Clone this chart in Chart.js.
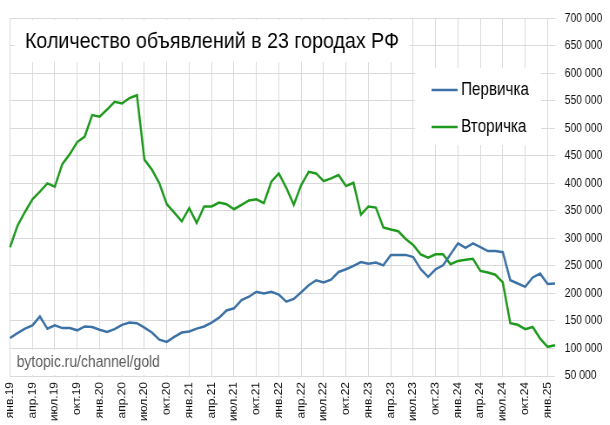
<!DOCTYPE html>
<html><head><meta charset="utf-8">
<script src="https://cdn.jsdelivr.net/npm/chart.js@4/dist/chart.umd.min.js"></script>
<style>
html,body{margin:0;padding:0;background:#fff;overflow:hidden;}
#wrap{width:701px;height:425px;transform:scaleX(0.87);transform-origin:0 0;}
</style></head><body>
<div id="wrap"><canvas id="c" width="701" height="425"></canvas></div>
<script>
const months = ["янв.19","фев.19","мар.19","апр.19","май.19","июн.19","июл.19","авг.19","сен.19","окт.19","ноя.19","дек.19",
"янв.20","фев.20","мар.20","апр.20","май.20","июн.20","июл.20","авг.20","сен.20","окт.20","ноя.20","дек.20",
"янв.21","фев.21","мар.21","апр.21","май.21","июн.21","июл.21","авг.21","сен.21","окт.21","ноя.21","дек.21",
"янв.22","фев.22","мар.22","апр.22","май.22","июн.22","июл.22","авг.22","сен.22","окт.22","ноя.22","дек.22",
"янв.23","фев.23","мар.23","апр.23","май.23","июн.23","июл.23","авг.23","сен.23","окт.23","ноя.23","дек.23",
"янв.24","фев.24","мар.24","апр.24","май.24","июн.24","июл.24","авг.24","сен.24","окт.24","ноя.24","дек.24",
"янв.25","фев.25"];
const primary = [119000,128000,136000,142000,158000,136000,142000,137000,137000,133000,140000,139000,
134000,130000,135000,143000,147000,146000,138000,129000,116000,112000,121000,129000,
131000,136000,140000,147000,156000,169000,173000,188000,194000,203000,200000,203000,
198000,185000,190000,202000,215000,224000,220000,225000,239000,244000,250000,257000,
254000,256000,251000,270000,270000,270000,266000,244000,230000,244000,251000,271000,
291000,283000,291000,284000,277000,277000,275000,224000,218000,212000,229000,236000,
217000,218000];
const secondary = [284000,323000,348000,371000,385000,400000,394000,435000,453000,475000,485000,524000,
521000,534000,548000,545000,555000,560000,443000,425000,400000,362000,347000,331000,
355000,328000,358000,358000,365000,362000,353000,361000,369000,371000,364000,403000,
418000,392000,361000,397000,421000,418000,404000,409000,415000,395000,401000,343000,
358000,356000,320000,316000,313000,299000,288000,271000,265000,271000,271000,253000,
259000,261000,263000,241000,238000,234000,220000,146000,143000,135000,139000,118000,
103000,106000];
const seriesNames = ["Первичка","Вторичка"];
const seriesColors = ["#3d72a6","#1f9a1f"];
const yTicks = {min:50000,max:700000,step:50000};
const titleText = "Количество объявлений в 23 городах РФ";
const sourceText = "bytopic.ru/channel/gold";

const FONT = "'Liberation Sans', Arial, sans-serif";
const fmt = v => String(v).replace(/\B(?=(\d{3})+(?!\d))/g,' ');

const deco = {
  id:'deco',
  beforeDatasetsDraw(chart){
    const ctx = chart.ctx;
    ctx.save();
    ctx.fillStyle = '#fff';
    ctx.fillRect(17, 20, 454, 42);
    ctx.fillRect(477, 68, 145, 77);
    ctx.fillRect(12.5, 350, 180, 25);
    ctx.fillStyle = '#000';
    ctx.font = "22.6px " + FONT;
    ctx.textBaseline = 'alphabetic';
    ctx.fillText(titleText, 28.7, 48);
    const ds = chart.data.datasets;
    const ly = [90, 127];
    ds.forEach((d,i)=>{
      ctx.strokeStyle = d.borderColor; ctx.lineWidth = 2.5;
      ctx.beginPath(); ctx.moveTo(496, ly[i]); ctx.lineTo(526, ly[i]); ctx.stroke();
      ctx.fillStyle = '#000';
      ctx.font = "17.5px " + FONT;
      ctx.textBaseline = 'middle';
      ctx.fillText(d.label, 530, ly[i]);
    });
    ctx.fillStyle = '#595959';
    ctx.font = "16px " + FONT;
    ctx.textBaseline = 'alphabetic';
    ctx.fillText(sourceText, 19.2, 367);
    ctx.restore();
  }
};

new Chart(document.getElementById('c'), {
  type:'line',
  data:{
    labels: months,
    datasets:[
      {label:seriesNames[0], data:primary, borderColor:seriesColors[0], borderWidth:2.5, pointRadius:0, tension:0, fill:false},
      {label:seriesNames[1], data:secondary, borderColor:seriesColors[1], borderWidth:2.5, pointRadius:0, tension:0, fill:false}
    ]
  },
  options:{
    responsive:false, animation:false,
    layout:{padding:{left:11.5, top:6, right:0, bottom:0}},
    plugins:{legend:{display:false}, tooltip:{enabled:false}, title:{display:false}},
    scales:{
      x:{
        offset:false,
        afterFit:s=>{ s.height = 49; },
        grid:{color:c=> (c.index%3===0 ? '#d9d9d9' : 'rgba(0,0,0,0)'), drawTicks:false, lineWidth:1},
        border:{display:false},
        ticks:{autoSkip:false, maxRotation:90, minRotation:90, padding:6, color:'#111',
          font:{size:12, family:FONT},
          callback:(v,i)=> (i%3===0 ? months[i] : '')}
      },
      y:{
        position:'right', min:yTicks.min, max:yTicks.max,
        afterFit:s=>{ s.width = 63; },
        grid:{color:'#d9d9d9', drawTicks:false, lineWidth:1},
        border:{display:false},
        ticks:{stepSize:yTicks.step, padding:11, color:'#111', font:{size:12, family:FONT}, callback:v=>fmt(v)}
      }
    }
  },
  plugins:[deco]
});
</script>
</body></html>
